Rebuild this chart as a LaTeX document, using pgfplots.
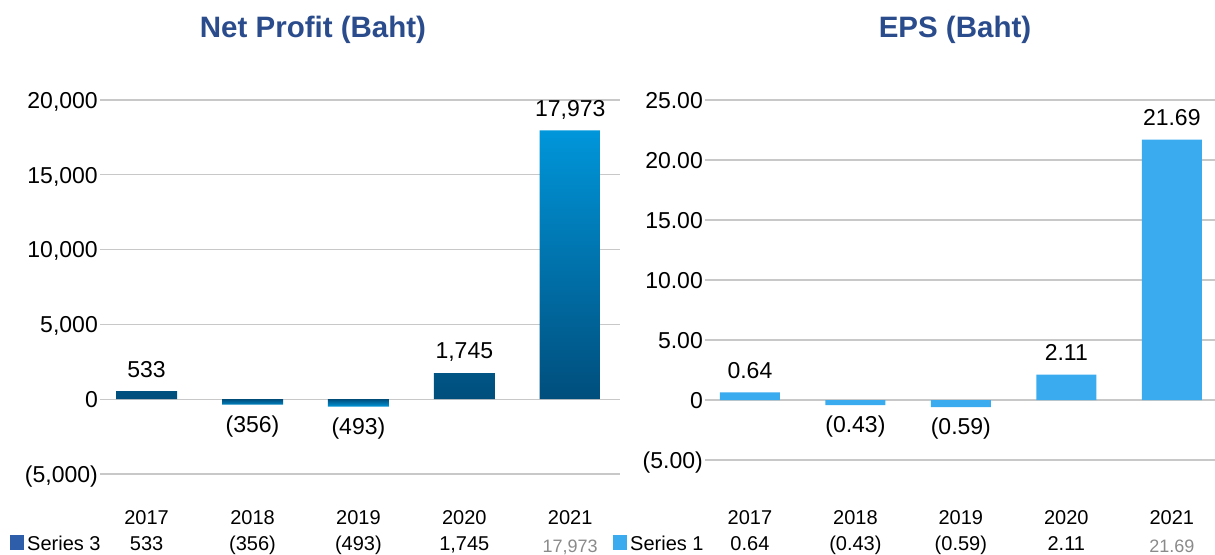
\documentclass[border=0pt]{standalone}
\usepackage{fontspec}
\setmainfont{Liberation Sans}
\usepackage{pgfplots}
\pgfplotsset{compat=1.18}

\definecolor{titleblue}{HTML}{2B4C8C}
\definecolor{bardark}{HTML}{004E7C}
\definecolor{barlight}{HTML}{0096DA}
\definecolor{epsblue}{HTML}{3AABEF}
\definecolor{leg3}{HTML}{2E5DAA}
\definecolor{gridgray}{HTML}{C8C8C8}
\definecolor{dimgray}{HTML}{8A8A8A}

\newcommand\bigf{\fontsize{23}{25}\selectfont}
\newcommand\midf{\fontsize{20}{22}\selectfont}
\newcommand\smf{\fontsize{18}{20}\selectfont}
\newcommand\titf{\fontsize{29.5}{31}\selectfont\bfseries}

\pgfplotsset{
  panel/.style={
    scale only axis, anchor=south west, clip=false,
    axis line style={draw=none}, tick style={draw=none},
    scaled y ticks=false,
    ymajorgrids, grid style={gridgray, line width=1.2pt},
    xtick={0,...,4}, xticklabels={2017,2018,2019,2020,2021},
    xticklabel style={font=\midf, anchor=base},
    yticklabel style={font=\bigf, anchor=east, inner xsep=2pt,
      text height=16.5pt, text depth=0pt},
    ybar, bar width=61pt,
  },
  bars/.style={
    draw=none, bar shift=0pt,
    nodes near coords, point meta=explicit symbolic,
    every node near coord/.append style={font=\bigf, black,
      inner ysep=11pt, text height=16.5pt, text depth=3pt},
  },
  negbars/.style={bars,
    every node near coord/.append style={anchor=north}},
}

\begin{document}
\begin{tikzpicture}
\useasboundingbox (0,0) rectangle (1215pt,554pt);

% titles
\node[anchor=base, font=\titf, text=titleblue] at (313pt,516pt) {Net Profit (Baht)};
\node[anchor=base, font=\titf, text=titleblue] at (955pt,516pt) {EPS (Baht)};

% ---- Net Profit ----
\begin{axis}[panel,
  at={(100pt,80pt)}, width=520pt, height=374pt,
  xmin=-0.44, xmax=4.47, ymin=-5000, ymax=20000,
  ytick={-5000,0,5000,10000,15000,20000},
  yticklabels={{(5,000)},0,{5,000},{10,000},{15,000},{20,000}},
  xticklabel style={yshift=-46pt},
]
\addplot[bars, bottom color=bardark, top color=barlight]
  coordinates {(0,533)[533] (3,1745)[{1,745}] (4,17973)[{17,973}]};
\addplot[negbars, top color=bardark, bottom color=barlight]
  coordinates {(1,-356)[(356)] (2,-493)[(493)]};

\node[anchor=base, font=\midf, yshift=-76pt] at (axis cs:0,-5000) {533};
\node[anchor=base, font=\midf, yshift=-76pt] at (axis cs:1,-5000) {(356)};
\node[anchor=base, font=\midf, yshift=-76pt] at (axis cs:2,-5000) {(493)};
\node[anchor=base, font=\midf, yshift=-76pt] at (axis cs:3,-5000) {1,745};
\node[anchor=base, font=\smf, text=dimgray, yshift=-78pt] at (axis cs:4,-5000) {17,973};
\end{axis}

% ---- EPS ----
\begin{axis}[panel,
  at={(705pt,94pt)}, width=510pt, height=360pt,
  xmin=-0.426, xmax=4.41, ymin=-5, ymax=25,
  ytick={-5,0,5,10,15,20,25},
  yticklabels={{(5.00)},0,5.00,10.00,15.00,20.00,25.00},
  xticklabel style={yshift=-60pt},
  bar width=60pt,
]
\addplot[bars, fill=epsblue]
  coordinates {(0,0.64)[0.64] (3,2.11)[2.11] (4,21.69)[21.69]};
\addplot[negbars, fill=epsblue]
  coordinates {(1,-0.43)[(0.43)] (2,-0.59)[(0.59)]};

\node[anchor=base, font=\midf, yshift=-90pt] at (axis cs:0,-5) {0.64};
\node[anchor=base, font=\midf, yshift=-90pt] at (axis cs:1,-5) {(0.43)};
\node[anchor=base, font=\midf, yshift=-90pt] at (axis cs:2,-5) {(0.59)};
\node[anchor=base, font=\midf, yshift=-90pt] at (axis cs:3,-5) {2.11};
\node[anchor=base, font=\smf, text=dimgray, yshift=-92pt] at (axis cs:4,-5) {21.69};
\end{axis}

% table row legends
\node[anchor=base west, inner sep=0pt, font=\midf] at (10pt,4pt)
  {\textcolor{leg3}{\rule[0.5pt]{14pt}{14pt}}\hspace{3pt}Series 3};
\node[anchor=base west, inner sep=0pt, font=\midf] at (613pt,4pt)
  {\textcolor{epsblue}{\rule[0.5pt]{14pt}{14pt}}\hspace{3pt}Series 1};
\end{tikzpicture}
\end{document}
